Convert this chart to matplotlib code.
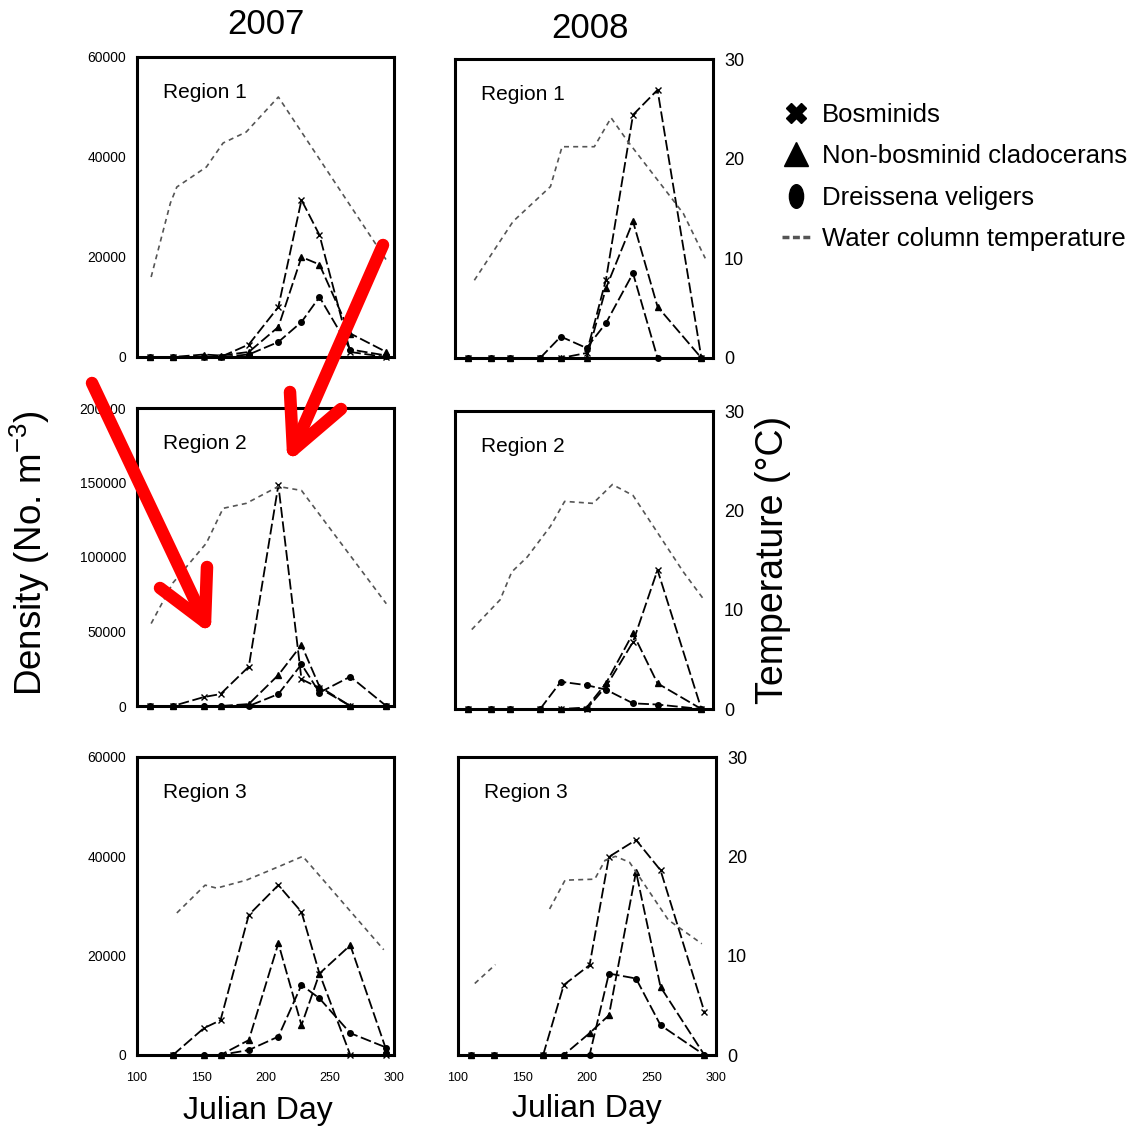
import numpy as np
import matplotlib
matplotlib.use("Agg")
import matplotlib.pyplot as plt
from matplotlib.lines import Line2D
from matplotlib.path import Path
from matplotlib.transforms import Affine2D

plt.rcParams['font.family'] = ['Liberation Sans', 'DejaVu Sans']
plt.rcParams['mathtext.fontset'] = 'custom'
plt.rcParams['mathtext.rm'] = 'Liberation Sans'
plt.rcParams['mathtext.it'] = 'Liberation Sans:italic'

nan = np.nan

# ---------------- data ----------------
years = ["2007", "2008"]
regions = ["Region 1", "Region 2", "Region 3"]
series_names = ["Bosminids", "Non-bosminid cladocerans", "Dreissena veligers"]
temp_name = "Water column temperature"

# sampling days (Julian day)
days_2007 = [110, 128, 152, 165, 187, 210, 228, 242, 266, 294]
days_2008 = [110, 128, 143, 166, 182, 202, 217, 238, 257, 291]

# densities (No. m^-3)
bos_2007_r1 = [0, 0, 0, 0, 2500, 10000, 31400, 24400, 1000, 0]
non_2007_r1 = [0, 0, 500, 300, 1000, 6000, 20000, 18500, 4700, 1000]
dre_2007_r1 = [0, 0, 0, 0, 500, 3000, 7000, 12000, 1500, 300]

bos_2008_r1 = [0, 0, 0, 0, 0, 1000, 15700, 48800, 53800, 0]
non_2008_r1 = [0, 0, 0, 0, 0, 0, 14000, 27400, 10300, 0]
dre_2008_r1 = [0, 0, 0, 0, 4300, 2000, 7000, 17000, 0, 0]

bos_2007_r2 = [0, 0, 6000, 8000, 26400, 148300, 18000, 12000, 0, 0]
non_2007_r2 = [0, 0, 0, 0, 1300, 20800, 41000, 13000, 0, 0]
dre_2007_r2 = [0, 0, 0, 0, 0, 8000, 28000, 9000, 19700, 0]

bos_2008_r2 = [0, 0, 0, 0, 0, 0, 15000, 45000, 93300, 0]
non_2008_r2 = [0, 0, 0, 0, 0, 1000, 17200, 50800, 17200, 0]
dre_2008_r2 = [0, 0, 0, 0, 18300, 16000, 13000, 3800, 3000, 0]

bos_2007_r3 = [nan, 0, 5400, 7000, 28200, 34200, 28800, 16400, 0, 0]
non_2007_r3 = [nan, 0, 0, 0, 3000, 22500, 6000, 16400, 22100, 1000]
dre_2007_r3 = [nan, 0, 0, 0, 1000, 3700, 14100, 11400, 4400, 1500]

bos_2008_r3 = [0, 0, nan, 0, 14100, 18100, 39900, 43300, 37200, 8700]
non_2008_r3 = [0, 0, nan, 0, 0, 4400, 8000, 36900, 13700, 0]
dre_2008_r3 = [0, 0, nan, 0, 0, 0, 16400, 15400, 6000, 0]

# water column temperature (deg C)
tday_2007_r1 = [111, 126, 131, 154, 167, 185, 210, 294]
temp_2007_r1 = [8.0, 15.4, 17.0, 19.0, 21.4, 22.5, 26.0, 9.7]
tday_2008_r1 = [115, 145, 174, 183, 191, 208, 221, 233, 277, 294]
temp_2008_r1 = [7.8, 13.7, 17.2, 21.2, 21.2, 21.2, 24.1, 21.9, 14.5, 10.0]

tday_2007_r2 = [111, 128, 154, 167, 185, 210, 228, 294]
temp_2007_r2 = [8.3, 12.4, 16.4, 19.9, 20.4, 22.1, 21.7, 10.3]
tday_2008_r2 = [113, 135, 144, 156, 174, 185, 207, 222, 238, 277, 293]
temp_2008_r2 = [8.0, 11.0, 13.8, 15.3, 18.4, 20.9, 20.7, 22.6, 21.5, 13.8, 11.0]

tday_2007_r3 = [131, 153, 162, 185, 211, 229, 292]
temp_2007_r3 = [14.3, 17.1, 16.8, 17.6, 19.0, 20.0, 10.6]
tday_2008_r3 = [113, 129, 150, 171, 183, 206, 214, 222, 233, 263, 289]
temp_2008_r3 = [7.2, 9.1, nan, 14.7, 17.6, 17.7, 19.6, 20.0, 19.4, 13.6, 11.2]

density_ticks_small = [0, 20000, 40000, 60000]
density_ticks_large = [0, 50000, 100000, 150000, 200000]
temp_ticks = [0, 10, 20, 30]
day_ticks = [100, 150, 200, 250, 300]

# ---------------- layout ----------------
W = H = 1132
fig = plt.figure(figsize=(W / 100, H / 100), dpi=100)


def px_rect(l, t, r, b):
    return [l / W, 1 - b / H, (r - l) / W, (b - t) / H]


def px_pt(x, y):
    return x / W, 1 - y / H


panel_boxes = {
    (0, 0): (137, 57, 394, 357), (0, 1): (455, 59, 713, 358),
    (1, 0): (137, 408, 394, 706), (1, 1): (455, 411, 713, 709),
    (2, 0): (137, 757, 394, 1055), (2, 1): (458, 757, 716, 1055),
}

panels = {
    (0, 0): (days_2007, [bos_2007_r1, non_2007_r1, dre_2007_r1], tday_2007_r1, temp_2007_r1),
    (0, 1): (days_2008, [bos_2008_r1, non_2008_r1, dre_2008_r1], tday_2008_r1, temp_2008_r1),
    (1, 0): (days_2007, [bos_2007_r2, non_2007_r2, dre_2007_r2], tday_2007_r2, temp_2007_r2),
    (1, 1): (days_2008, [bos_2008_r2, non_2008_r2, dre_2008_r2], tday_2008_r2, temp_2008_r2),
    (2, 0): (days_2007, [bos_2007_r3, non_2007_r3, dre_2007_r3], tday_2007_r3, temp_2007_r3),
    (2, 1): (days_2008, [bos_2008_r3, non_2008_r3, dre_2008_r3], tday_2008_r3, temp_2008_r3),
}

markers = ['x', '^', 'o']
series_ls = (0, (6, 2))
temp_ls = (0, (3, 2.5))
temp_color = '#555555'

for (row, col), (days, series, tdays, temps) in panels.items():
    ax = fig.add_axes(px_rect(*panel_boxes[(row, col)]))
    yticks = density_ticks_large if row == 1 else density_ticks_small
    ax.set_xlim(100, 300)
    ax.set_ylim(0, yticks[-1])
    for vals, mk in zip(series, markers):
        ax.plot(days, vals, ls=series_ls, color='black', lw=1.3,
                marker=mk, ms=4, mew=1.0, clip_on=False)
    tx = ax.twinx()
    tx.set_ylim(0, 30)
    tx.plot(tdays, temps, ls=temp_ls, color=temp_color, lw=1.2)
    for s in tx.spines.values():
        s.set_visible(False)
    for s in ax.spines.values():
        s.set_linewidth(2.2)
    ax.tick_params(length=0)
    tx.tick_params(length=0)

    ax.set_xticks(day_ticks)
    ax.set_xticklabels([str(d) for d in day_ticks], fontsize=9)
    ax.tick_params(axis='x', pad=12, labelbottom=(row == 2))

    ax.set_yticks(yticks)
    ax.set_yticklabels([str(v) for v in yticks], fontsize=10)
    ax.tick_params(axis='y', pad=8, labelleft=(col == 0))

    tx.set_yticks(temp_ticks)
    tx.set_yticklabels([str(v) for v in temp_ticks], fontsize=13)
    tx.tick_params(axis='y', pad=8, labelright=(col == 1))

    ax.text(0.10, 0.88, regions[row], transform=ax.transAxes,
            fontsize=15, ha='left', va='center')

# column titles and axis titles
fig.text(*px_pt(266, 25), years[0], fontsize=25, ha='center', va='center')
fig.text(*px_pt(590, 28), years[1], fontsize=25, ha='center', va='center')
fig.text(*px_pt(258, 1111), "Julian Day", fontsize=23, ha='center', va='center')
fig.text(*px_pt(587, 1109), "Julian Day", fontsize=23, ha='center', va='center')
fig.text(*px_pt(30, 553), "Density (No. m$^{-3}$)", fontsize=26.5,
         rotation=90, ha='center', va='center')
fig.text(*px_pt(773, 560), "Temperature (\u00b0C)", fontsize=27,
         rotation=90, ha='center', va='center')

# legend
ellipse = Path.unit_circle().transformed(Affine2D().scale(0.6, 1.0))
handles = [
    Line2D([], [], ls='none', marker='X', ms=15, color='black'),
    Line2D([], [], ls='none', marker='^', ms=17, color='black'),
    Line2D([], [], ls='none', marker=ellipse, ms=17, color='black'),
    Line2D([], [], ls=(0, (2, 1)), lw=2.5, color=temp_color),
]
fig.legend(handles, series_names + [temp_name], loc='upper left',
           bbox_to_anchor=px_pt(782, 103), frameon=False, fontsize=18.5,
           handlelength=1.1, handletextpad=0.45, labelspacing=0.68,
           borderaxespad=0, borderpad=0)

# red pointer arrows
arrows = [
    ((92, 383), (205, 622), (160, 588), (207, 567)),
    ((383, 245), (293, 450), (290, 392), (341, 409)),
]
for start, tip, wing_a, wing_b in arrows:
    sx, sy = zip(px_pt(*start), px_pt(*tip))
    fig.add_artist(Line2D(sx, sy, color='red', lw=9, solid_capstyle='round',
                          transform=fig.transFigure, zorder=10))
    hx, hy = zip(px_pt(*wing_a), px_pt(*tip), px_pt(*wing_b))
    fig.add_artist(Line2D(hx, hy, color='red', lw=9, solid_capstyle='round',
                          solid_joinstyle='round', transform=fig.transFigure,
                          zorder=10))

fig.savefig("out.png", dpi=100)
